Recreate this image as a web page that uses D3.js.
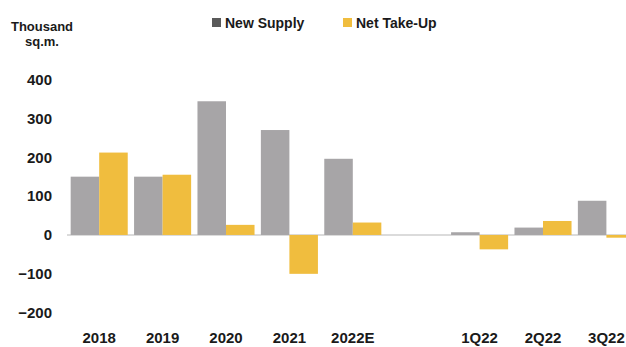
<!DOCTYPE html>
<html><head><meta charset="utf-8">
<script src="https://cdn.jsdelivr.net/npm/d3@7"></script>
<style>body{margin:0;background:#fff}svg{display:block}</style>
</head><body><svg id="c" width="626" height="347"></svg>
<script>
const categories = ["2018","2019","2020","2021","2022E","","1Q22","2Q22","3Q22"];
const newSupply = [150,150,344,270,196,null,7,19,88];
const netTakeUp = [212,155,26,-100,32,null,-37,36,-7];
const yTicks = [400,300,200,100,0,-100,-200];
const seriesNames = ["New Supply","Net Take-Up"];
const colors = ["#a7a5a7","#f0bd3e"];

const svg = d3.select("#c");
const font = "'Liberation Sans', Arial, sans-serif";
const y = d3.scaleLinear().domain([-200,400]).range([312.7,79.5]);
const x0 = d3.scaleBand().domain(categories.map((d,i)=>i)).range([67.5,638.1]).paddingInner(0.1).paddingOuter(0.05);
const x1 = d3.scaleBand().domain([0,1]).range([0,x0.bandwidth()]);

// zero line
svg.append("line").attr("x1",67).attr("x2",626).attr("y1",y(0)).attr("y2",y(0))
  .attr("stroke","#cfcfcf").attr("stroke-width",1.5);

const series = [newSupply, netTakeUp];
series.forEach((vals,s)=>{
  svg.append("g").selectAll("rect").data(vals.map((v,i)=>({v,i})).filter(d=>d.v!==null))
    .join("rect")
    .attr("x",d=>x0(d.i)+x1(s))
    .attr("width",x1.bandwidth())
    .attr("y",d=>y(Math.max(0,d.v)))
    .attr("height",d=>Math.abs(y(d.v)-y(0)))
    .attr("fill",colors[s]);
});

// y axis labels
const yAxis = d3.axisLeft(y).tickValues(yTicks).tickSize(0).tickPadding(0);
const gy = svg.append("g").attr("transform","translate(52,0)").call(yAxis);
gy.select(".domain").remove();
gy.selectAll("text").attr("font-family",font).attr("font-weight","bold").attr("font-size",15).attr("fill","#1a1a1a");

// x axis labels
const xAxis = d3.axisBottom(x0).tickFormat(i=>categories[i]).tickSize(0).tickPadding(0);
const gx = svg.append("g").attr("transform","translate(0,332)").call(xAxis);
gx.select(".domain").remove();
gx.selectAll("text").attr("font-family",font).attr("font-weight","bold").attr("font-size",15).attr("fill","#1a1a1a");

// unit title
svg.append("text").attr("x",42).attr("y",31).attr("text-anchor","middle")
  .attr("font-family",font).attr("font-weight","bold").attr("font-size",13).attr("fill","#1a1a1a").text("Thousand");
svg.append("text").attr("x",42).attr("y",46).attr("text-anchor","middle")
  .attr("font-family",font).attr("font-weight","bold").attr("font-size",13).attr("fill","#1a1a1a").text("sq.m.");

// legend
const legX = [212,343];
const legColors = ["#5a5a5a", colors[1]];
seriesNames.forEach((n,i)=>{
  svg.append("rect").attr("x",legX[i]).attr("y",18).attr("width",9).attr("height",9).attr("fill",legColors[i]);
  svg.append("text").attr("x",legX[i]+13).attr("y",27.5).attr("font-family",font).attr("font-weight","bold")
    .attr("font-size",14).attr("fill","#1a1a1a").text(n);
});
</script></body></html>
